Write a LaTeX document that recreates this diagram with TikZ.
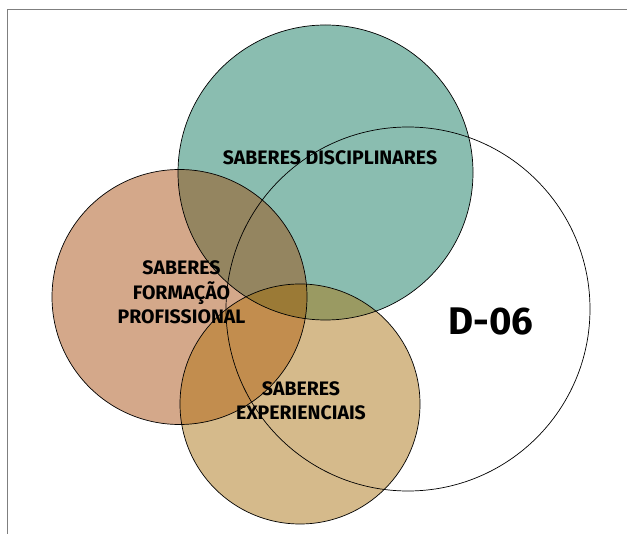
\documentclass[tikz,border=0pt]{standalone}
\usepackage{fontspec}
\setmainfont{Fira Sans}
\usepackage{tikz}
\usetikzlibrary{positioning, calc}

\definecolor{verde}{HTML}{8ABDB0}
\definecolor{salmao}{HTML}{D4A88A}
\definecolor{areia}{HTML}{D5BA8B}
\definecolor{verdesalmao}{HTML}{948560}
\definecolor{verdeareia}{HTML}{9A9A62}
\definecolor{salmaoareia}{HTML}{C28D4E}
\definecolor{centro}{HTML}{9B7A36}
\definecolor{moldura}{HTML}{7F7F7F}

\tikzset{
    saber/.style={circle, inner sep=0pt, outer sep=0pt},
    contorno/.style={draw=black, line width=0.7pt},
    rotulo/.style={font=\bfseries\fontsize{19.5}{24.2}\selectfont, align=center, anchor=base, inner sep=0pt}
}

\begin{document}
\begin{tikzpicture}[x=1pt, y=-1pt]
    \useasboundingbox (0,0) rectangle (627,534);
    % Frame
    \draw[moldura, line width=1pt] (7.5,534) -- (7.5,9.5) -- (627,9.5);

    % Circles
    \node (disc) [saber, minimum size=295pt, fill=verde] at (325.5,172.5) {};
    \node (form) [saber, minimum size=255pt, fill=salmao] at (179.5,297) {};
    \node (exp) [saber, minimum size=240pt, fill=areia] at (300,404) {};
    \node (dseis) [saber, minimum size=364pt] at (408,309) {};

    % Overlaps
    \begin{scope}
        \clip (form.center) circle (127.5pt);
        \fill[salmaoareia] (exp.center) circle (120pt);
    \end{scope}
    \begin{scope}
        \clip (disc.center) circle (147.5pt);
        \fill[verdesalmao] (form.center) circle (127.5pt);
        \fill[verdeareia] (exp.center) circle (120pt);
        \clip (form.center) circle (127.5pt);
        \fill[centro] (exp.center) circle (120pt);
    \end{scope}

    % Labels
    \node (tdisc) [rotulo] at (330,165) {SABERES DISCIPLINARES};
    \node (tform) [rotulo] at (181.5,323.3) {SABERES\\FORMAÇÃO\\PROFISSIONAL};
    \node (texp) [rotulo] at (301,420) {SABERES\\EXPERIENCIAIS};
    \node (tdseis) [rotulo, font=\bfseries\fontsize{38.5}{40}\selectfont] at (491,335) {D-06};

    % Outlines
    \foreach \c/\r in {disc/147.5, form/127.5, exp/120, dseis/182}
        \draw[contorno] (\c.center) circle (\r pt);
\end{tikzpicture}
\end{document}
